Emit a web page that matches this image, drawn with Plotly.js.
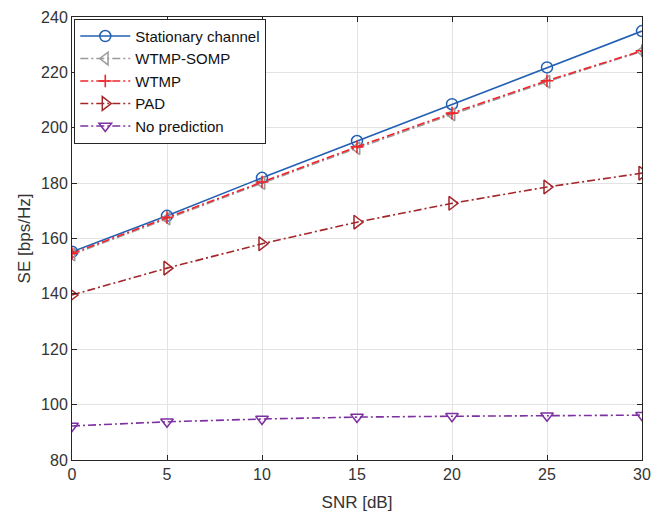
<!DOCTYPE html>
<html>
<head>
<meta charset="utf-8">
<script src="https://cdn.plot.ly/plotly-3.0.1.min.js"></script>
<style>body{margin:0;padding:0;background:#fff}#chart{width:657px;height:512px}</style>
</head>
<body>
<div id="chart"></div>
<script>
const snr = [0, 5, 10, 15, 20, 25, 30];
const stationary = [155.2, 168.2, 181.9, 195.2, 208.5, 221.8, 234.9];
const wtmpSomp = [154.2, 167.2, 180.0, 192.6, 204.8, 216.6, 227.6];
const wtmp = [154.6, 167.6, 180.4, 193.1, 205.3, 217.0, 227.8];
const pad = [139.6, 149.3, 158.1, 165.9, 172.7, 178.6, 183.6];
const noPred = [92.3, 93.8, 94.8, 95.5, 95.8, 96.0, 96.2];

const names = ['Stationary channel', 'WTMP-SOMP', 'WTMP', 'PAD', 'No prediction'];

const FONT = 'Liberation Sans, Arial, Helvetica, sans-serif';

const traces = [
  {x: snr, y: stationary, name: names[0], mode: 'lines+markers',
   line: {color: '#2260b4', width: 1.6, dash: 'solid'},
   marker: {symbol: 'circle-open', size: 11, color: '#2260b4', line: {width: 1.5}}},
  {x: snr, y: wtmpSomp, name: names[1], mode: 'lines+markers',
   line: {color: '#9a9a9a', width: 1.6, dash: '8px,3px,2px,3px'},
   marker: {symbol: 'triangle-left-open', size: 11, color: '#9a9a9a', line: {width: 1.5}}},
  {x: snr, y: wtmp, name: names[2], mode: 'lines+markers',
   line: {color: '#f0242a', width: 1.6, dash: '8px,3px,2px,3px'},
   marker: {symbol: 'cross-thin-open', size: 9, color: '#f0242a', line: {width: 1.6, color: '#f0242a'}}},
  {x: snr, y: pad, name: names[3], mode: 'lines+markers',
   line: {color: '#a3262a', width: 1.6, dash: '8px,3px,2px,3px'},
   marker: {symbol: 'triangle-right-open', size: 12, color: '#a3262a', line: {width: 1.5}}},
  {x: snr, y: noPred, name: names[4], mode: 'lines+markers',
   line: {color: '#7d30a0', width: 1.6, dash: '8px,3px,2px,3px'},
   marker: {symbol: 'triangle-down-open', size: 11, color: '#7d30a0', line: {width: 1.5}}}
];

const axisCommon = {
  showgrid: true, gridcolor: '#e3e3e3', gridwidth: 1,
  showline: true, linecolor: '#262626', linewidth: 1, mirror: 'ticks',
  ticks: 'inside', ticklen: 5, tickcolor: '#262626',
  zeroline: false,
  tickfont: {family: FONT, size: 16, color: '#333333'}
};

const layout = {
  width: 657, height: 512,
  margin: {l: 72, r: 15, t: 17, b: 52},
  paper_bgcolor: '#ffffff', plot_bgcolor: '#ffffff',
  showlegend: true,
  xaxis: Object.assign({}, axisCommon, {
    range: [0, 30], tickvals: [0, 5, 10, 15, 20, 25, 30],
    title: {text: 'SNR [dB]', standoff: 14, font: {family: FONT, size: 17, color: '#333333'}}
  }),
  yaxis: Object.assign({}, axisCommon, {
    range: [80, 240], tickvals: [80, 100, 120, 140, 160, 180, 200, 220, 240],
    title: {text: 'SE [bps/Hz]', standoff: 6, font: {family: FONT, size: 17, color: '#333333'}}
  }),
  legend: {
    x: 0.004, y: 0.996, xanchor: 'left', yanchor: 'top',
    bgcolor: '#ffffff', bordercolor: '#262626', borderwidth: 1,
    font: {family: FONT, size: 15, color: '#111'},
    tracegroupgap: 0, itemwidth: 50
  }
};

Plotly.newPlot('chart', traces, layout, {displayModeBar: false, staticPlot: true});
</script>
</body>
</html>
